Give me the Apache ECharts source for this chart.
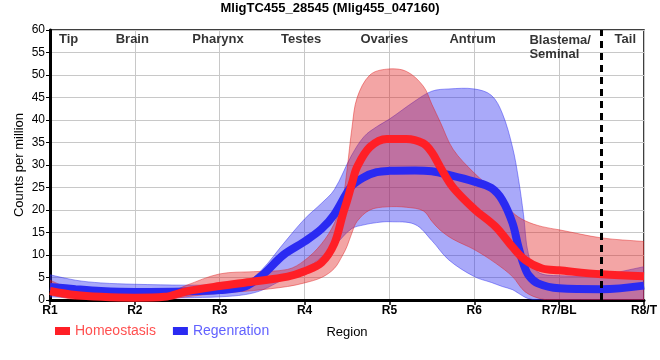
<!DOCTYPE html>
<html><head><meta charset="utf-8">
<script src="https://cdn.jsdelivr.net/npm/echarts@6/dist/echarts.min.js"></script>
<style>html,body{margin:0;padding:0;background:#fff}#c{width:660px;height:360px}</style>
</head><body><div id="c"></div>
<script>
const title = 'MligTC455_28545 (Mlig455_047160)';
const tickLabels = ['R1','R2','R3','R4','R5','R6','R7/BL','R8/T'];
const regionNames = ['Tip','Brain','Pharynx','Testes','Ovaries','Antrum','Blastema/\nSeminal','Tail'];
const regionX = [1.22, 1.97, 2.98, 3.96, 4.94, 5.98, 6.65, 7.78];
const regionY = [57.8, 57.8, 57.8, 57.8, 57.8, 57.8, 56.2, 57.8];
const dividerX = 7.5;

// Homeostasis
const homX    = [1, 1.3, 1.6, 2, 2.35, 2.6, 3, 3.4, 3.8, 4, 4.2, 4.35, 4.45, 4.5, 4.56, 4.62, 4.77, 4.97, 5.2, 5.4, 5.5, 5.6, 5.75, 6, 6.25, 6.45, 6.6, 6.8, 7, 7.5, 8];
const homMean = [2.0, 1.1, 0.7, 0.5, 0.7, 1.9, 3.1, 4.1, 5.2, 6.4, 8.3, 12.5, 19.0, 22.0, 26.0, 29.6, 34.0, 35.8, 35.8, 34.8, 32.8, 29.5, 25.0, 20.2, 16.3, 11.8, 8.9, 7.0, 6.6, 5.7, 5.3];
const homUp   = [4.4, 2.0, 1.1, 0.8, 1.3, 3.2, 5.8, 6.3, 6.8, 8.8, 12.5, 17.0, 22.5, 28.9, 38.5, 45.0, 50.0, 51.3, 50.8, 47.5, 43.5, 39.5, 33.5, 28.2, 24.0, 19.5, 17.6, 16.3, 15.6, 13.8, 13.0];
const homLow  = [1.1, 0.1, 0, 0, 0, 0.7, 1.5, 2.1, 3.0, 3.8, 5.0, 7.0, 10.0, 11.9, 15.0, 17.5, 20.0, 20.7, 20.6, 19.8, 17.5, 15.5, 13.5, 11.2, 8.2, 5.2, 1.8, 0.2, 0, 0, 0];

// Regeneration
const regX    = [1, 1.3, 1.6, 2, 2.6, 3, 3.3, 3.5, 3.75, 4, 4.2, 4.35, 4.55, 4.7, 4.85, 5, 5.3, 5.5, 5.7, 6, 6.2, 6.33, 6.45, 6.52, 6.58, 6.64, 6.75, 7, 7.5, 8];
const regMean = [2.9, 2.4, 2.0, 1.8, 1.9, 2.2, 3.0, 5.5, 10.0, 13.0, 15.8, 19.0, 25.2, 27.3, 28.4, 28.7, 28.8, 28.6, 27.8, 26.3, 24.9, 22.2, 17.1, 11.8, 8.0, 5.5, 3.7, 2.6, 2.4, 3.2];
const regUp   = [5.6, 4.4, 3.8, 3.5, 3.3, 3.4, 3.9, 6.8, 12.5, 18.0, 21.5, 24.5, 32.0, 36.3, 38.5, 40.2, 44.2, 46.4, 46.9, 46.9, 45.5, 41.5, 34.0, 27.0, 19.0, 10.0, 6.2, 5.4, 5.6, 7.4];
const regLow  = [0.7, 0.5, 0.4, 0.4, 0.5, 0.7, 1.2, 2.2, 4.6, 6.8, 9.5, 12.0, 15.8, 16.7, 17.2, 17.4, 16.8, 13.2, 8.9, 5.2, 3.9, 3.0, 2.3, 1.5, 0.8, 0.3, 0, 0, 0, 0];

const FONT = 'Liberation Sans, Arial, sans-serif';
const SM = 0.35;

function band(id, xs, lo, hi, fill, edge) {
  return {
    type:'custom', name:id, silent:true, clip:true,
    data: xs.map((x,i)=>[x, lo[i], hi[i]]),
    encode:{x:0, y:[1,2]},
    renderItem: function(params, api) {
      if (params.dataIndex !== 0) return null;
      const pts = [];
      const n = xs.length;
      for (let i = 0; i < n; i++) {
        const p = api.coord([xs[i], hi[i]]);
        pts.push(p);
        if (i === 0 || i === n-1) pts.push(p.slice());
      }
      for (let i = n-1; i >= 0; i--) {
        const p = api.coord([xs[i], lo[i]]);
        pts.push(p);
        if (i === 0 || i === n-1) pts.push(p.slice());
      }
      return { type:'polygon', shape:{points:pts, smooth:SM},
        style:{fill:fill, stroke:edge, lineWidth:1} };
    }
  };
}
function meanLine(name, xs, ys, color) {
  return { type:'line', name, smooth:SM, symbol:'none', color, itemStyle:{color},
    data: xs.map((x,i)=>[x, ys[i]]), lineStyle:{width:8, color} };
}

const chart = echarts.init(document.getElementById('c'), null, {renderer:'canvas'});
chart.setOption({
  animation:false,
  backgroundColor:'#fff',
  textStyle:{fontFamily:FONT},
  title:{ text:title, left:'center', top:-3, textStyle:{fontSize:13, fontWeight:'bold', color:'#000', fontFamily:FONT} },
  grid:{ left:50, right:10, top:30, bottom:60, show:true, borderColor:'#000', borderWidth:1.5 },
  legend:{ left:50, top:319, itemWidth:15, itemHeight:8, itemGap:17, icon:'rect',
    textStyle:{fontSize:14, fontFamily:FONT},
    data:[ {name:'Homeostasis', textStyle:{color:'#ff5050'}}, {name:'Regenration', textStyle:{color:'#6262ff'}} ] },
  xAxis:{ type:'value', min:1, max:8, interval:1, name:'Region', nameLocation:'middle', nameGap:26,
    nameTextStyle:{fontSize:13, color:'#000', fontFamily:FONT},
    axisLine:{lineStyle:{color:'#000', width:3}}, axisTick:{show:true, length:5, lineStyle:{color:'#000', width:1.5}},
    axisLabel:{color:'#000', fontSize:12, fontWeight:'bold', margin:5, showMaxLabel:true,
      formatter:v=>tickLabels[Math.round(v)-1] || ''},
    splitLine:{show:true, lineStyle:{color:'#c8c8c8', width:1}} },
  yAxis:{ type:'value', min:0, max:60, interval:5, name:'Counts per million', nameLocation:'middle', nameGap:24,
    nameMoveOverlap:false,
    nameTextStyle:{fontSize:13, color:'#000', fontFamily:FONT},
    axisLine:{show:true, lineStyle:{color:'#000', width:3}}, axisTick:{show:true, length:4, lineStyle:{color:'#000', width:1}},
    axisLabel:{color:'#000', fontSize:12, margin:5},
    splitLine:{show:true, lineStyle:{color:'#c8c8c8', width:1}} },
  series:[
    band('reg', regX, regLow, regUp, 'rgba(40,40,240,0.4)', 'rgba(40,40,240,0.45)'),
    meanLine('Regenration', regX, regMean, '#2a2af2'),
    band('hom', homX, homLow, homUp, 'rgba(225,30,30,0.4)', 'rgba(225,30,30,0.45)'),
    meanLine('Homeostasis', homX, homMean, '#ff1f26'),
    { type:'scatter', name:'divider', symbolSize:0, silent:true, data:[],
      markLine:{ silent:true, symbol:'none', label:{show:false},
        lineStyle:{color:'#000', width:3, type:[7,5]}, data:[{xAxis:dividerX}] } },
    { type:'scatter', name:'regions', symbolSize:0, silent:true,
      data: regionNames.map((n,i)=>({name:n, value:[regionX[i], regionY[i]],
        label: i===6 ? {position:'right', distance:0, align:'left'} : {}})),
      label:{show:true, position:'inside', formatter:p=>p.name, color:'#000', fontSize:13, fontWeight:'bold', fontFamily:FONT, lineHeight:14} }
  ]
});
</script></body></html>
